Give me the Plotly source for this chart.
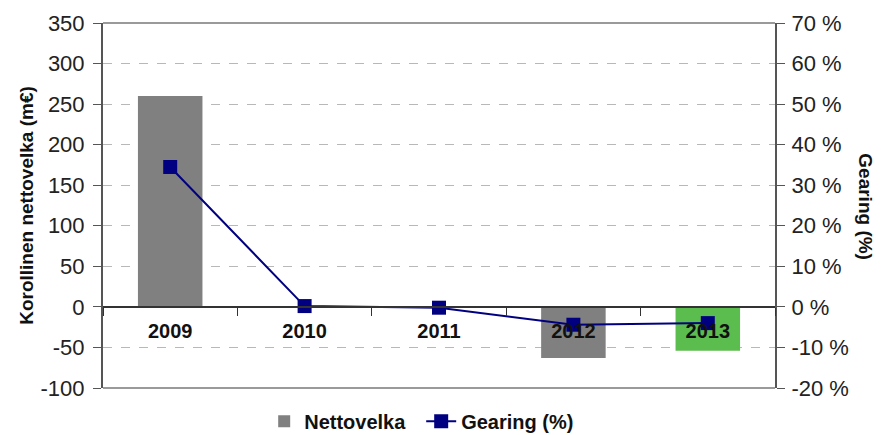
import plotly.graph_objects as go

# data
years = ["2009", "2010", "2011", "2012", "2013"]
nettovelka = [260, 0, 0, -63, -54]          # m€
gearing = [34.5, 0.2, -0.2, -4.4, -4.0]     # %
bar_colors = ["#808080", "#808080", "#808080", "#808080", "#5cbd4f"]

y_ticks = [-100, -50, 0, 50, 100, 150, 200, 250, 300, 350]
y_ticktext = ["-100", "-50", "0", "50", "100", "150", "200", "250", "300", "350"]
y2_ticks = [-20, -10, 0, 10, 20, 30, 40, 50, 60, 70]
y2_ticktext = ["-20 %", "-10 %", "0 %", "10 %", "20 %", "30 %", "40 %", "50 %", "60 %", "70 %"]

y_range = [-100, 350]
y2_range = [-20, 70]
zero_pos = (0 - y_range[0]) / (y_range[1] - y_range[0])

font_family = "Liberation Sans, Arial, sans-serif"

fig = go.Figure()

fig.add_trace(go.Bar(
    x=years, y=nettovelka, name="Nettovelka",
    marker=dict(color=bar_colors, line=dict(width=0)),
    width=0.48,
))

fig.add_trace(go.Scatter(
    x=years, y=gearing, name="Gearing (%)", yaxis="y2",
    mode="lines+markers",
    line=dict(color="#000080", width=2),
    marker=dict(symbol="square", size=14, color="#000080"),
))

# the page body adds an 8px offset, so margins are shifted up/left to compensate
fig.update_layout(
    width=881, height=435,
    margin=dict(l=95, r=114, t=15, b=55, autoexpand=False),
    paper_bgcolor="white", plot_bgcolor="white",
    font=dict(family=font_family, size=22, color="#222222"),
    showlegend=True,
    legend=dict(orientation="h", x=0.469, xanchor="center", xref="container",
                y=0.05, yanchor="middle", yref="container",
                font=dict(size=20, color="#111111", family=font_family, weight="bold"),
                entrywidth=112, tracegroupgap=0),
    xaxis=dict(
        anchor="free", position=zero_pos, automargin=False,
        showline=True, linecolor="#333333", linewidth=1.5,
        ticks="outside", tickson="boundaries", ticklen=8, tickcolor="#333333",
        ticklabelstandoff=6,
        tickfont=dict(size=20, color="#111111", weight="bold"),
        showgrid=False, zeroline=False,
    ),
    yaxis=dict(
        range=y_range, tickvals=y_ticks, ticktext=y_ticktext, automargin=False,
        showline=True, linecolor="#555555", linewidth=2,
        ticks="outside", ticklen=8, tickcolor="#555555", ticklabelstandoff=4,
        showgrid=True, gridcolor="#b8b8b8", griddash="dash", gridwidth=1,
        zeroline=False,
        title=dict(text="<b>Korollinen nettovelka (m€)</b>", font=dict(size=19, color="#111111"),
                   standoff=2),
    ),
    yaxis2=dict(
        range=y2_range, tickvals=y2_ticks, ticktext=y2_ticktext, automargin=False,
        overlaying="y", side="right",
        showline=True, linecolor="#555555", linewidth=2,
        ticks="outside", ticklen=8, tickcolor="#555555", ticklabelstandoff=2,
        showgrid=False, zeroline=False,
    ),
    shapes=[
        dict(type="line", xref="paper", yref="paper", x0=0, x1=1, y0=1, y1=1,
             line=dict(color="#9a9a9a", width=2)),
        dict(type="line", xref="paper", yref="paper", x0=0, x1=1, y0=0, y1=0,
             line=dict(color="#9a9a9a", width=2)),
    ],
    annotations=[
        dict(text="<b>Gearing (%)</b>", xref="paper", yref="paper", x=1.152, y=0.496,
             showarrow=False, textangle=90, font=dict(size=19, color="#111111")),
    ],
)

fig.write_html("out.html")
